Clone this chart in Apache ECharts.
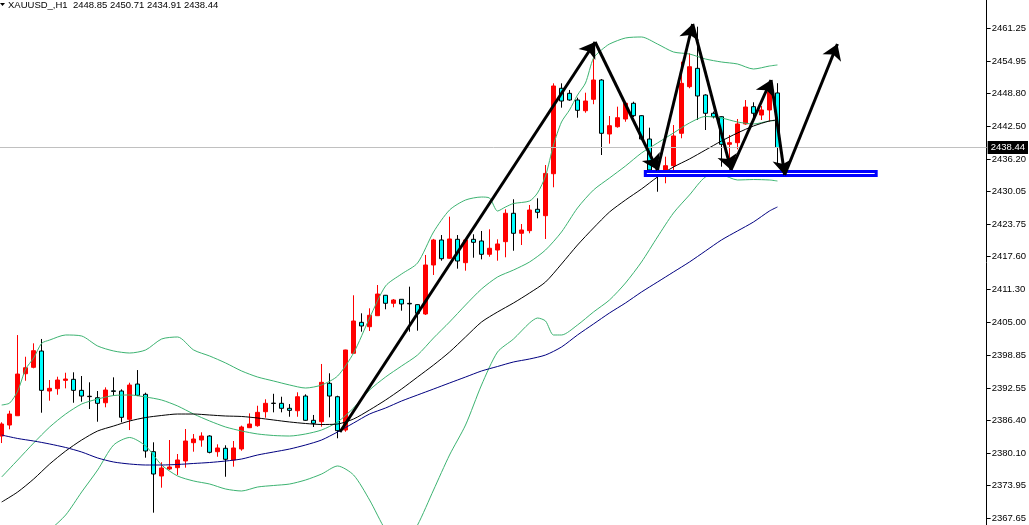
<!DOCTYPE html>
<html><head><meta charset="utf-8">
<script src="https://cdn.jsdelivr.net/npm/echarts@6/dist/echarts.min.js"></script>
<style>html,body{margin:0;padding:0;background:#fff;overflow:hidden}#c{width:1029px;height:525px}</style>
</head><body><div id="c"></div>
<script>
const symbolName = 'XAUUSD_,H1';
const opens  = [2383.38,2385.48,2387.25,2395.27,2396.49,2399.60,2391.97,2392.41,2394.00,2394.20,2392.10,2390.97,2390.69,2389.73,2392.00,2391.97,2386.57,2393.30,2391.34,2380.39,2375.75,2377.09,2377.34,2378.62,2382.11,2382.62,2383.38,2380.39,2381.04,2378.81,2380.91,2384.97,2385.35,2388.02,2389.65,2389.62,2388.67,2388.21,2391.01,2386.38,2386.11,2393.44,2390.88,2384.53,2399.17,2405.08,2404.24,2406.34,2410.24,2408.71,2409.47,2408.70,2408.45,2406.67,2416.02,2420.79,2417.30,2420.92,2416.46,2420.92,2420.60,2418.06,2418.88,2420.47,2425.89,2422.07,2422.57,2426.65,2425.43,2433.44,2449.74,2448.78,2447.51,2445.46,2447.64,2451.32,2441.02,2442.41,2443.88,2446.88,2444.51,2440.06,2434.10,2433.14,2434.97,2441.15,2450.05,2453.55,2448.46,2444.97,2444.32,2439.05,2439.36,2442.93,2446.23,2444.64,2445.60,2448.85];
const highs  = [2386.00,2388.21,2402.65,2398.51,2401.07,2401.90,2394.07,2394.70,2395.46,2395.54,2394.83,2393.63,2391.97,2392.67,2394.58,2392.29,2393.55,2395.97,2391.65,2382.18,2378.37,2382.62,2379.95,2384.72,2383.76,2384.09,2383.52,2381.80,2381.61,2382.43,2385.36,2387.70,2389.16,2390.39,2391.44,2390.88,2389.48,2391.72,2391.34,2387.40,2397.13,2395.35,2391.07,2399.85,2410.24,2406.80,2407.75,2412.20,2410.30,2409.53,2409.50,2411.88,2408.50,2417.93,2421.00,2421.74,2425.24,2421.74,2420.90,2421.88,2422.51,2422.83,2420.92,2426.65,2428.56,2423.84,2427.47,2428.75,2435.10,2450.69,2450.69,2449.42,2447.95,2448.90,2455.50,2451.50,2444.45,2446.23,2446.99,2447.18,2444.60,2442.22,2435.30,2436.69,2442.73,2454.82,2456.42,2461.50,2448.60,2445.30,2444.40,2440.83,2443.88,2447.50,2447.07,2446.36,2450.05,2450.71];
const lows   = [2382.04,2384.66,2387.20,2393.93,2396.30,2387.83,2390.12,2391.26,2392.48,2389.73,2389.93,2388.53,2386.11,2388.86,2391.07,2385.99,2384.52,2391.00,2379.24,2368.75,2373.52,2376.90,2375.95,2377.34,2380.39,2381.34,2380.08,2379.43,2375.61,2377.53,2380.58,2384.90,2385.16,2386.87,2387.90,2387.90,2387.06,2387.06,2386.30,2385.10,2385.16,2386.95,2382.95,2384.20,2399.10,2403.29,2403.42,2406.30,2407.57,2407.95,2407.30,2403.29,2403.48,2406.48,2414.11,2416.84,2417.20,2415.32,2414.93,2417.41,2417.10,2417.60,2416.84,2417.49,2418.74,2419.83,2422.07,2424.93,2420.98,2430.85,2446.04,2447.37,2444.13,2445.08,2446.70,2437.01,2439.17,2442.22,2443.36,2444.26,2439.90,2433.82,2430.00,2431.61,2433.19,2440.20,2449.74,2443.69,2441.78,2444.00,2434.78,2436.06,2438.10,2442.80,2443.69,2443.69,2443.36,2434.91];
const closes = [2385.67,2387.58,2395.21,2396.41,2399.66,2392.10,2392.48,2394.07,2394.26,2392.10,2391.01,2390.90,2389.62,2392.16,2391.90,2386.95,2393.11,2391.14,2380.52,2376.13,2377.28,2377.47,2378.81,2382.43,2382.81,2383.38,2380.27,2381.10,2378.94,2381.10,2385.10,2385.67,2387.90,2389.62,2389.60,2388.67,2388.28,2390.88,2386.38,2385.80,2393.63,2391.01,2384.40,2399.80,2405.33,2404.38,2406.42,2410.48,2408.71,2409.34,2408.58,2408.60,2406.80,2416.02,2420.79,2417.22,2420.98,2416.78,2420.79,2420.35,2418.06,2419.21,2420.03,2425.89,2422.07,2422.70,2426.51,2426.07,2433.50,2450.18,2447.31,2447.51,2445.54,2447.31,2451.32,2441.15,2442.60,2444.13,2446.88,2444.51,2440.06,2434.15,2433.20,2434.97,2440.64,2450.69,2453.86,2448.27,2444.97,2444.32,2439.05,2439.36,2442.93,2446.17,2444.97,2445.60,2449.09,2438.44];

// Indicator lines: [bar index, price]
const upperBand = [[0,2389.30],[1,2389.68],[2,2391.97],[3,2396.17],[4,2398.27],[5,2401.08],[6,2401.70],[8,2402.66],[10,2402.47],[12,2400.56],[14,2399.61],[16,2399.22],[18,2399.80],[20,2401.90],[22,2402.28],[24,2399.80],[26,2398.65],[28,2397.32],[30,2395.79],[32,2394.64],[34,2393.88],[36,2393.12],[38,2392.54],[40,2393.12],[42,2394.83],[44,2399.22],[46,2405.90],[48,2412.01],[50,2414.30],[52,2416.40],[54,2422.32],[56,2426.51],[58,2428.42],[60,2428.99],[61,2428.80],[62,2426.32],[63,2427.09],[64,2427.75],[66,2428.23],[67,2429.76],[68,2433.00],[69,2438.92],[70,2443.31],[71,2445.60],[72,2448.46],[73,2450.75],[74,2455.52],[75,2457.05],[76,2458.19],[78,2459.34],[80,2459.53],[82,2458.19],[84,2456.67],[86,2456.28],[88,2455.33],[90,2454.76],[92,2454.38],[94,2453.42],[96,2453.99],[97,2454.19]];
const middleBand = [[0,2375.56],[2,2378.80],[4,2382.05],[6,2385.10],[8,2387.58],[10,2389.49],[12,2390.44],[14,2391.11],[16,2391.21],[18,2390.83],[20,2390.25],[22,2389.11],[24,2387.58],[26,2386.25],[28,2385.10],[30,2384.34],[32,2383.77],[34,2383.48],[36,2383.38],[38,2383.77],[40,2384.53],[42,2386.06],[44,2388.73],[46,2392.16],[48,2394.64],[50,2396.74],[52,2398.84],[54,2402.09],[56,2405.14],[58,2408.38],[60,2411.44],[62,2413.73],[64,2415.06],[66,2416.59],[68,2418.88],[70,2422.32],[72,2426.90],[74,2430.33],[76,2432.62],[78,2434.91],[80,2437.39],[82,2439.30],[84,2441.21],[86,2443.12],[88,2444.36],[90,2444.07],[92,2443.31],[94,2442.93],[96,2443.50],[97,2443.59]];
const lowerBand = [[0,2357.81],[2,2360.67],[4,2363.15],[6,2365.44],[8,2368.31],[10,2372.70],[12,2376.90],[14,2381.67],[16,2383.10],[18,2381.48],[20,2377.85],[22,2375.75],[24,2374.80],[26,2374.22],[28,2373.27],[30,2372.89],[32,2373.65],[34,2373.94],[36,2374.22],[38,2374.99],[40,2376.13],[42,2377.66],[44,2375.94],[46,2371.17],[48,2365.44],[50,2361.63],[52,2366.40],[54,2373.08],[56,2379.76],[58,2385.48],[60,2393.12],[62,2399.41],[64,2401.90],[66,2404.95],[67,2405.90],[68,2405.33],[69,2402.66],[70,2402.66],[72,2404.57],[74,2407.05],[76,2409.34],[78,2412.58],[80,2416.59],[82,2421.36],[84,2425.94],[86,2429.38],[88,2432.81],[90,2433.19],[92,2432.24],[94,2432.33],[96,2432.24],[97,2432.05]];
const blackMA = [[0,2370.79],[2,2372.70],[4,2375.18],[6,2378.04],[8,2380.52],[10,2382.62],[12,2384.34],[14,2385.29],[16,2386.25],[18,2386.91],[20,2387.30],[22,2387.58],[24,2387.58],[26,2387.39],[28,2387.20],[30,2387.11],[32,2386.82],[34,2386.44],[36,2386.06],[38,2385.77],[40,2385.58],[42,2385.67],[44,2386.63],[46,2388.35],[48,2390.25],[50,2392.35],[52,2394.64],[54,2396.93],[56,2399.41],[58,2402.28],[60,2405.14],[62,2407.05],[64,2408.77],[66,2410.67],[68,2412.77],[70,2416.21],[72,2419.83],[74,2423.08],[76,2426.13],[78,2428.42],[80,2430.52],[82,2432.81],[84,2434.72],[86,2436.25],[88,2437.96],[90,2439.68],[92,2441.21],[94,2442.54],[96,2443.50],[97,2443.69]];
const navyMA = [[0,2383.57],[2,2382.91],[4,2382.43],[6,2381.86],[8,2381.19],[10,2380.33],[12,2379.19],[14,2378.42],[16,2378.04],[18,2377.85],[20,2377.85],[22,2377.95],[24,2378.14],[26,2378.33],[28,2378.61],[30,2378.99],[32,2379.76],[34,2380.33],[36,2380.90],[38,2381.67],[40,2382.62],[42,2384.15],[44,2385.86],[46,2387.58],[48,2388.73],[50,2390.06],[52,2391.21],[54,2392.35],[56,2393.50],[58,2394.64],[60,2395.79],[62,2396.65],[64,2397.51],[66,2398.08],[68,2398.84],[70,2400.37],[72,2402.66],[74,2404.76],[76,2406.86],[78,2408.77],[80,2410.86],[82,2412.77],[84,2414.68],[86,2416.59],[88,2418.69],[90,2420.79],[92,2422.51],[94,2424.22],[96,2426.32],[97,2427.09]];

const priceTicks = [2461.25,2454.95,2448.80,2442.50,2436.20,2430.05,2423.75,2417.60,2411.30,2405.00,2398.85,2392.55,2386.40,2380.10,2373.95,2367.65];

// Drawn annotations (bar index, price)
const arrowPath = [[42.3,2384.15],[74.2,2458.57],[82.0,2434.15],[86.4,2462.01],[91.2,2434.15],[96.2,2451.32],[97.9,2433.19],[104.5,2458.19]];
const supportBox = [[80.48,2433.86],[109.35,2433.10]];

const candleData = opens.map((o, i) => [i, o, closes[i], lows[i], highs[i]]);
const last = opens.length - 1;
const titleText = symbolName + '  ' + [opens[last], highs[last], lows[last], closes[last]].map(v => v.toFixed(2)).join(' ');
const arrowSegs = [];
for (let k = 0; k < arrowPath.length - 1; k++) arrowSegs.push({coords: [arrowPath[k], arrowPath[k + 1]]});

const FONT = '"Liberation Sans", Arial, sans-serif';
const chart = echarts.init(document.getElementById('c'), null, {renderer: 'canvas'});
function lineSeries(name, data, color, width) {
  return {name, type: 'line', data, showSymbol: false, symbol: 'none', smooth: 0.25, z: 4,
    lineStyle: {color, width}, silent: true, animation: false};
}
chart.setOption({
  animation: false,
  backgroundColor: '#ffffff',
  title: {text: titleText, left: 8, top: 0, padding: 0,
    textStyle: {fontSize: 9.5, fontWeight: 'normal', color: '#000', fontFamily: FONT}},
  graphic: [{type: 'polygon', shape: {points: [[0, 3], [5, 3], [2.5, 6]]}, style: {fill: '#000'}}],
  grid: {left: 0, right: 42, top: 0, bottom: 0, containLabel: false},
  xAxis: {type: 'value', min: -0.2125, max: 123.1625, show: false, splitLine: {show: false}},
  yAxis: {type: 'value', position: 'right', min: 2366.40, max: 2466.59, scale: true,
    axisLine: {show: true, onZero: false, lineStyle: {color: '#000', width: 1}},
    axisTick: {show: true, inside: false, length: 4, customValues: priceTicks, lineStyle: {color: '#000'}},
    axisLabel: {show: true, customValues: priceTicks, margin: 5, color: '#000', fontSize: 9.5, fontFamily: FONT,
      formatter: v => Number(v).toFixed(2)},
    splitLine: {show: false}},
  series: [
    {type: 'candlestick', layout: 'horizontal', data: candleData, barWidth: 5, z: 3,
      itemStyle: {color: '#ff0000', color0: '#00ffff', borderColor: '#ff0000', borderColor0: '#000000', borderColorDoji: '#000000', borderWidth: 1},
      markLine: {silent: true, symbol: ['none', 'none'], animation: false,
        lineStyle: {color: '#c0c0c0', type: 'solid', width: 1},
        label: {show: true, position: 'end', distance: 1, formatter: p => Number(p.value).toFixed(2),
          color: '#fff', backgroundColor: '#000', padding: [2, 3, 1, 3], fontSize: 9.5, fontFamily: FONT},
        data: [{yAxis: closes[last]}]},
      markArea: {silent: true, z: 6,
        itemStyle: {color: '#ffffff', borderColor: '#0000ff', borderWidth: 3},
        data: [[{coord: supportBox[0]}, {coord: supportBox[1]}]]}
    },
    lineSeries('upper', upperBand, '#3cb371', 1),
    lineSeries('middle', middleBand, '#3cb371', 1),
    lineSeries('lower', lowerBand, '#3cb371', 1),
    lineSeries('ma', blackMA, '#000000', 1),
    lineSeries('ma2', navyMA, '#000080', 1),
    {type: 'lines', coordinateSystem: 'cartesian2d', z: 10, silent: true,
      symbol: ['none', 'arrow'], symbolSize: [12, 15],
      lineStyle: {color: '#000', width: 3, opacity: 1, curveness: 0},
      data: arrowSegs}
  ]
});
</script>
</body></html>
